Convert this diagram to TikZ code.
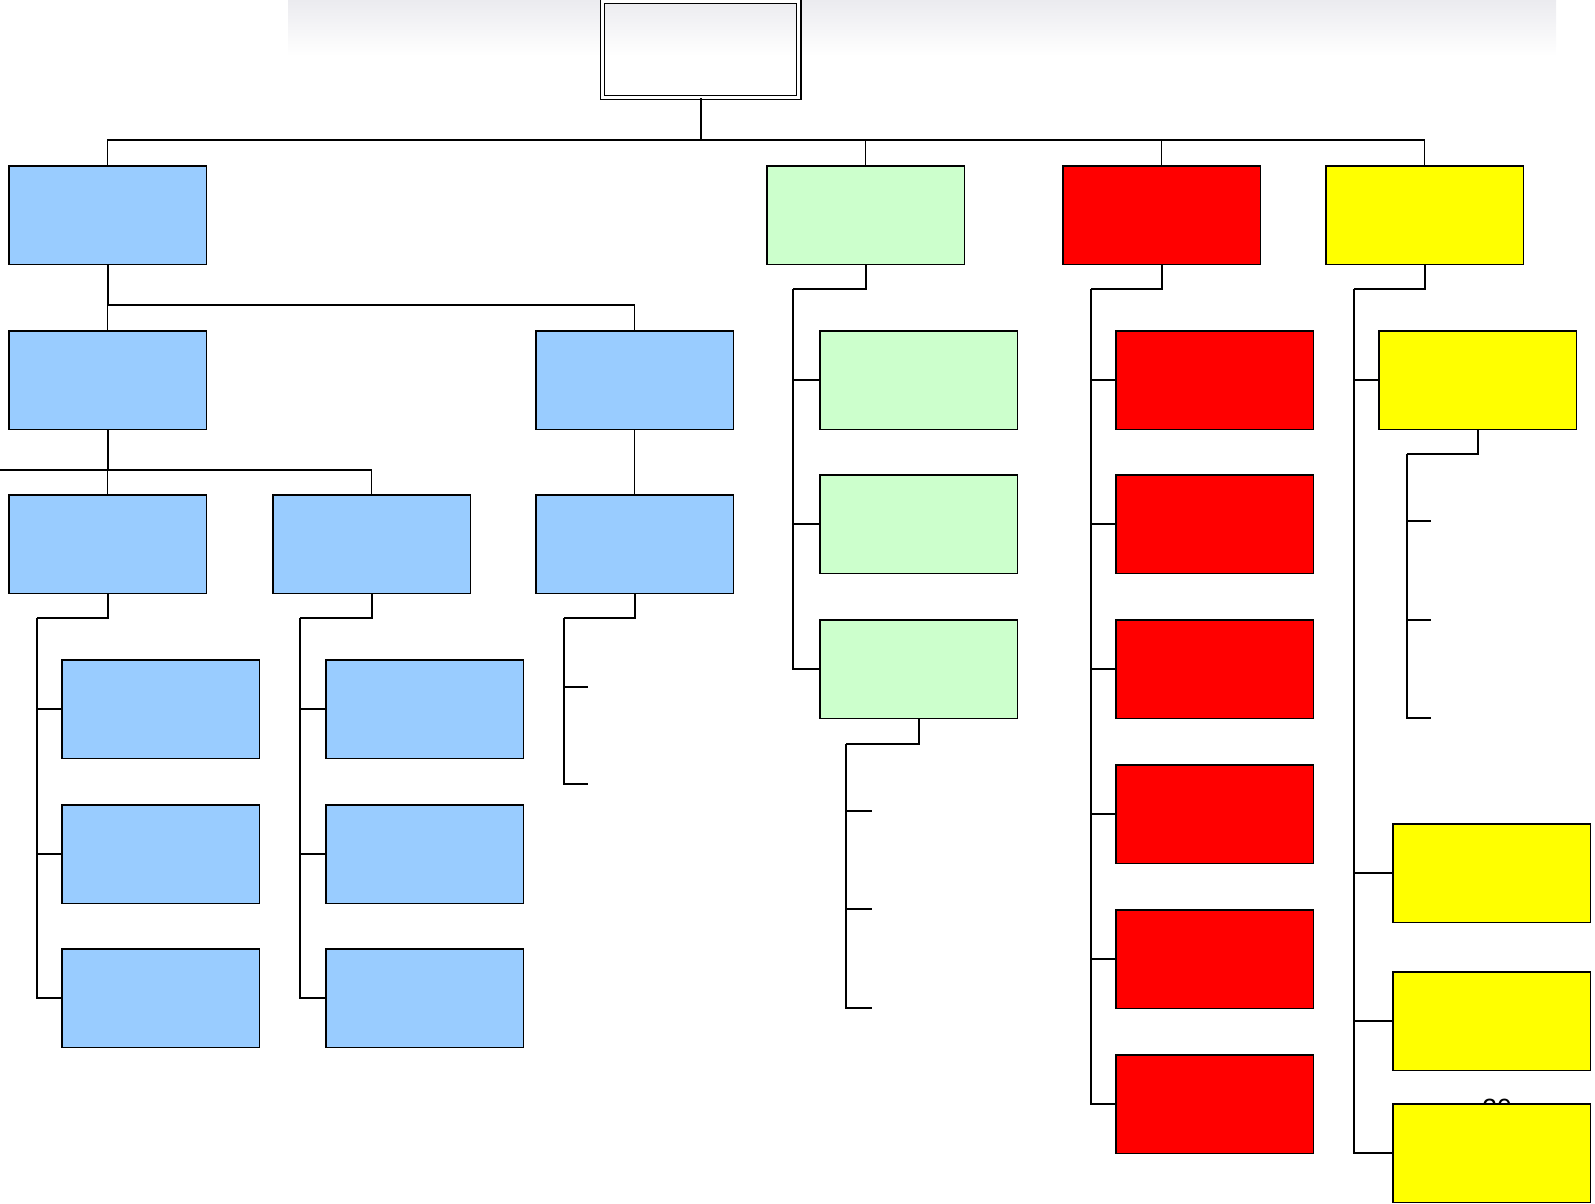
\documentclass[tikz,border=0pt]{standalone}
\usepackage{fontspec}
\setsansfont{Liberation Sans}
\usetikzlibrary{calc}
\definecolor{OrgBlue}{HTML}{99CCFF}
\definecolor{OrgGreen}{HTML}{CCFFCC}
\definecolor{OrgRed}{HTML}{FF0000}
\definecolor{OrgYellow}{HTML}{FFFF00}
\definecolor{OrgShade}{HTML}{EBEBEF}
\tikzset{
  unitbox/.style={draw=black, line width=0.45pt, minimum width=1.975cm,
                  minimum height=0.985cm, inner sep=0pt, anchor=north west},
  bluebox/.style={unitbox, fill=OrgBlue},
  greenbox/.style={unitbox, fill=OrgGreen},
  redbox/.style={unitbox, fill=OrgRed},
  yellowbox/.style={unitbox, fill=OrgYellow},
  rootbox/.style={draw=black, double=white, double distance=0.9pt, line width=0.35pt,
                  minimum width=1.96cm, minimum height=0.96cm, inner sep=0pt, anchor=north west},
  link/.style={line width=0.4pt, black},
  elbow/.style={line width=0.6pt, black},
}

\begin{document}
\begin{tikzpicture}[x=0.01cm, y=-0.01cm]
  \useasboundingbox (0,0) rectangle (1595,1203);

  % Header band
  \shade[top color=OrgShade, bottom color=white] (288,0) rectangle (1556,56);
  \node[rootbox] (root) at (602,1) {};

  % First level
  \node[bluebox]   (blue)   at (8,165) {};
  \node[greenbox]  (green)  at (766,165) {};
  \node[redbox]    (red)    at (1062,165) {};
  \node[yellowbox] (yellow) at (1325,165) {};
  \coordinate (rootbar) at (root.south |- 0,140);
  \draw[elbow] (root.south) -- (rootbar);
  \draw[link] (blue.north) |- (rootbar);
  \foreach \n in {green,red,yellow}
    \draw[link] (\n.north) |- (rootbar);

  % Blue branch
  \node[bluebox] (bluea) at (8,330) {};
  \node[bluebox] (blueb) at (535,330) {};
  \coordinate (bluebar) at (blue.south |- 0,305);
  \draw[elbow] (blue.south) -- (bluebar);
  \draw[link] (bluebar) -- (bluea.north);
  \draw[link] (blueb.north) |- (bluebar);

  \node[bluebox] (blueaa) at (8,494) {};
  \node[bluebox] (blueab) at (272,494) {};
  \node[bluebox] (blueba) at (535,494) {};
  \coordinate (blueabar) at (bluea.south |- 0,470);
  \coordinate (bluestub) at (0,470);
  \draw[elbow] (bluea.south) -- (blueabar);
  \draw[link] (blueabar) -- (blueaa.north);
  \draw[link] (blueab.north) |- (bluestub);
  \draw[link] (blueb.south) -- (blueba.north);

  % Blue leaves
  \foreach \p/\x/\sx in {blueaa/61/37, blueab/325/300} {
    \coordinate (\p sp) at (\sx,618);
    \draw[elbow] (\p.south) |- (\p sp);
    \foreach \i/\y in {1/659, 2/804, 3/948} {
      \node[bluebox] (\p\i) at (\x,\y) {};
      \draw[link] (\p sp) |- (\p\i.west);
    }
  }
  \coordinate (bluebasp) at (564,618);
  \coordinate (bluebat1) at (588,687);
  \coordinate (bluebat2) at (588,784);
  \draw[elbow] (blueba.south) |- (bluebasp);
  \draw[link] (bluebasp) |- (bluebat1);
  \draw[link] (bluebasp) |- (bluebat2);

  % Green branch
  \coordinate (greensp) at (793,289);
  \draw[elbow] (green.south) |- (greensp);
  \foreach \i/\y in {1/330, 2/474, 3/619} {
    \node[greenbox] (green\i) at (819,\y) {};
    \draw[link] (greensp) |- (green\i.west);
  }
  \coordinate (greencsp) at (846,744);
  \draw[elbow] (green3.south) |- (greencsp);
  \foreach \i/\y in {1/811, 2/909, 3/1008} {
    \coordinate (greent\i) at (872,\y);
    \draw[link] (greencsp) |- (greent\i);
  }

  % Red branch
  \coordinate (redsp) at (1091,289);
  \draw[elbow] (red.south) |- (redsp);
  \foreach \i/\y in {1/330, 2/474, 3/619, 4/764, 5/909, 6/1054} {
    \node[redbox] (red\i) at (1115,\y) {};
    \draw[link] (redsp) |- (red\i.west);
  }

  % Yellow branch
  \node[font=\sffamily\fontsize{7.5pt}{8pt}\selectfont] (pagenum) at (1497,1108) {20};
  \coordinate (yellowsp) at (1354,289);
  \draw[elbow] (yellow.south) |- (yellowsp);
  \node[yellowbox] (yellow1) at (1378,330) {};
  \draw[link] (yellowsp) |- (yellow1.west);
  \foreach \i/\y in {2/823, 3/971, 4/1103} {
    \node[yellowbox] (yellow\i) at (1392,\y) {};
    \draw[link] (yellowsp) |- (yellow\i.west);
  }
  \coordinate (yellowasp) at (1407,454);
  \draw[elbow] (yellow1.south) |- (yellowasp);
  \foreach \i/\y in {1/521, 2/620, 3/718} {
    \coordinate (yellowt\i) at (1431,\y);
    \draw[link] (yellowasp) |- (yellowt\i);
  }

\end{tikzpicture}
\end{document}
